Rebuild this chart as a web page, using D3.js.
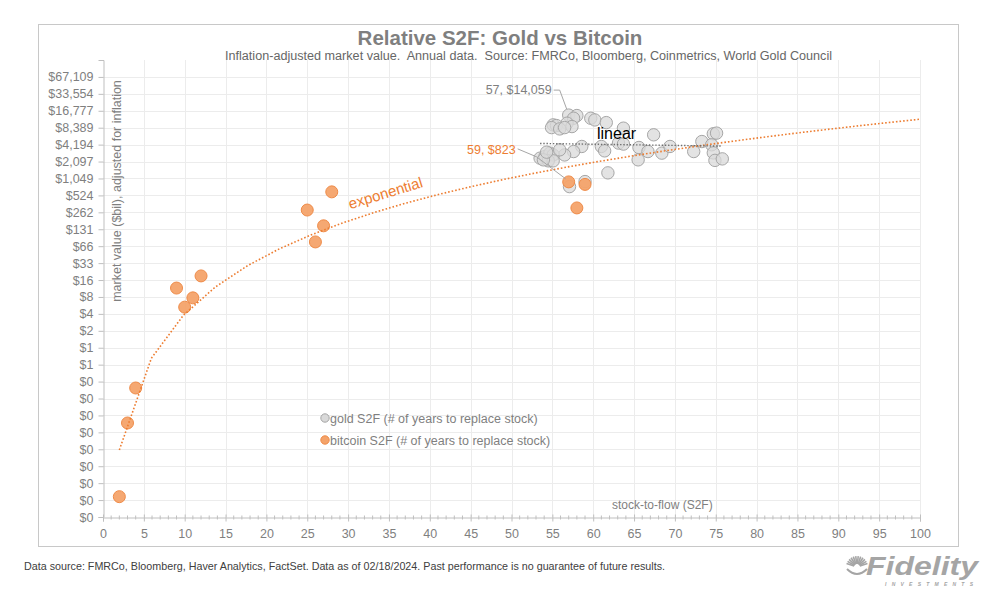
<!DOCTYPE html>
<html><head><meta charset="utf-8">
<script src="https://cdn.jsdelivr.net/npm/d3@7"></script>
<style>
html,body{margin:0;padding:0;background:#fff;}
text{font-family:"Liberation Sans",Arial,sans-serif;}
</style></head>
<body>
<svg id="c" width="1000" height="595"></svg>
<script>
// ---- data ----
const goldX = [57, 58.0, 57.6, 56.8, 57.4, 55.1, 55.5, 54.9, 55.9, 56.5, 59.7, 60.2, 61.6, 63.7, 67.4, 61.0, 61.4, 63.1, 63.7, 58.6, 57.6, 56.5, 53.5, 54.1, 54.7, 55.1, 54.5, 55.1, 53.9, 55.9, 65.5, 65.6, 66.7, 68.4, 69.4, 61.8, 72.3, 73.3, 74.7, 75.1, 74.5, 74.7, 74.9, 75.8, 57.1, 59.0, 54.3];
const goldY = [14059, 13800, 12360, 10100, 8790, 9420, 9160, 8430, 7980, 8430, 12360, 11540, 10330, 8230, 6270, 3890, 3250, 4470, 4290, 3890, 3160, 2750, 2410, 2570, 2960, 2750, 2160, 2160, 2250, 3390, 2250, 3730, 3160, 2960, 3890, 1320, 3160, 4760, 6540, 6720, 4170, 2990, 2200, 2340, 752, 924, 3080];
const btcX = [2, 3, 4, 9, 10, 11, 12, 25, 26, 27, 28, 57, 58, 59];
const btcY = [0.0023, 0.047, 0.197, 11.8, 5.4, 7.9, 19.4, 288, 78, 151, 606, 912, 314, 823];
const goldTrendX = [53.5, 75.8];
const goldTrendY = [4400, 3950];
const xTicks = d3.range(0, 101, 5);
const yTicks = d3.range(0, 27).map(k => Math.pow(2, k) / 1000);
const title = "Relative S2F: Gold vs Bitcoin";
const subtitle = "Inflation-adjusted market value.  Annual data.  Source: FMRCo, Bloomberg, Coinmetrics, World Gold Council";
const footer = "Data source: FMRCo, Bloomberg, Haver Analytics, FactSet. Data as of 02/18/2024. Past performance is no guarantee of future results.";
const yTitle = "market value ($bil), adjusted for inflation";
const xTitle = "stock-to-flow (S2F)";
const legendLabels = ["gold S2F (# of years to replace stock)", "bitcoin S2F (# of years to replace stock)"];
const goldNote = {x: 57, y: 14059, text: "57, $14,059"};
const btcNote = {x: 57, y: 912, text: "59, $823"};

// ---- layout ----
const svg = d3.select("#c");
const L = 103, R = 920, T = 60, B = 517;
const x = d3.scaleLinear().domain([0, 100]).range([L, R]);
const y = d3.scaleLog().base(2).domain([0.001, Math.pow(2, 27) / 1000]).range([B, T]);
const grey = "#7f7f7f", orange = "#ed7d31";

// frame
svg.append("rect").attr("x", 38.5).attr("y", 24.5).attr("width", 920).attr("height", 522)
  .attr("fill", "none").attr("stroke", "#c8c8c8").attr("stroke-width", 1);

// gridlines
const g = svg.append("g");
g.selectAll("line.h").data(yTicks.slice(1)).join("line")
  .attr("x1", L).attr("x2", R).attr("y1", d => Math.round(y(d)) + 0.5).attr("y2", d => Math.round(y(d)) + 0.5)
  .attr("stroke", "#ececec");
g.selectAll("line.v").data(xTicks.slice(1)).join("line")
  .attr("y1", T).attr("y2", B).attr("x1", d => Math.round(x(d)) + 0.5).attr("x2", d => Math.round(x(d)) + 0.5)
  .attr("stroke", "#ececec");

// y axis
const yAxis = d3.axisLeft(y).tickValues(yTicks).tickSize(5).tickPadding(5)
  .tickFormat(d => "$" + d3.format(",.0f")(d));
const ya = svg.append("g").attr("transform", `translate(${L + 0.5},0)`).call(yAxis);
ya.select(".domain").attr("stroke", "#bfbfbf");
ya.selectAll(".tick line").attr("stroke", "#bfbfbf");
ya.selectAll(".tick text").attr("fill", grey).style("font-size", "12.5px")
  .style("font-family", "Liberation Sans, Arial, sans-serif");

// x axis
const xa = svg.append("g").attr("transform", `translate(0,${B + 0.5})`)
  .call(d3.axisBottom(x).tickValues(xTicks).tickSize(4).tickPadding(8).tickFormat(d3.format("d")));
xa.select(".domain").attr("stroke", "#bfbfbf");
xa.selectAll(".tick line").attr("stroke", "#bfbfbf").attr("y1", -3);
xa.selectAll(".tick text").attr("fill", grey).style("font-size", "12.5px")
  .style("font-family", "Liberation Sans, Arial, sans-serif");
xa.selectAll("line.minor").data(d3.range(1, 100).filter(d => d % 5 !== 0)).join("line")
  .attr("class", "minor").attr("x1", d => x(d)).attr("x2", d => x(d)).attr("y1", -2).attr("y2", 2)
  .attr("stroke", "#bfbfbf");

// axis titles
svg.append("text").attr("transform", "translate(121,191) rotate(-90)").attr("text-anchor", "middle")
  .attr("fill", grey).style("font-size", "12.5px").text(yTitle);
svg.append("text").attr("x", 612).attr("y", 509).attr("fill", grey).style("font-size", "12px").text(xTitle);

// points
svg.append("g").selectAll("circle").data(goldX.map((d, i) => [d, goldY[i]])).join("circle")
  .attr("cx", d => x(d[0])).attr("cy", d => y(d[1])).attr("r", 6.2)
  .attr("fill", "#d9d9d9").attr("fill-opacity", 0.75).attr("stroke", "#a6a6a6").attr("stroke-width", 1);
svg.append("g").selectAll("circle").data(btcX.map((d, i) => [d, btcY[i]])).join("circle")
  .attr("cx", d => x(d[0])).attr("cy", d => y(d[1])).attr("r", 6)
  .attr("fill", "#f4a36a").attr("fill-opacity", 0.95).attr("stroke", "#ef8b48").attr("stroke-width", 1);

// power trendline fitted to bitcoin data
const lx = btcX.map(Math.log), ly = btcY.map(Math.log);
const mx = d3.mean(lx), my = d3.mean(ly);
const bb = d3.sum(lx, (v, i) => (v - mx) * (ly[i] - my)) / d3.sum(lx, v => (v - mx) * (v - mx));
const aa = my - bb * mx;
const trend = d3.range(26).map(i => { const xv = 2 + i * 98 / 25; return [xv, Math.exp(aa + bb * Math.log(xv))]; });
const line = d3.line().x(d => x(d[0])).y(d => y(d[1]));
svg.append("path").attr("d", line(trend)).attr("fill", "none").attr("stroke", orange)
  .attr("stroke-width", 1.6).attr("stroke-dasharray", "1.6 2");
svg.append("path").attr("d", line(goldTrendX.map((d, i) => [d, goldTrendY[i]]))).attr("fill", "none")
  .attr("stroke", "#6e6e6e").attr("stroke-width", 1.4).attr("stroke-dasharray", "1.4 1.8");

// trend labels
svg.append("text").attr("transform", "translate(387,198) rotate(-17)").attr("text-anchor", "middle")
  .attr("fill", orange).style("font-size", "15px").text("exponential");
svg.append("text").attr("x", 597).attr("y", 139).attr("fill", "#000").style("font-size", "16px").text("linear");

// annotations
const gx = x(goldNote.x), gy = y(goldNote.y);
svg.append("polyline").attr("points", [[gx - 15, gy - 25], [gx - 9, gy - 25], [gx - 2, gy - 6]].join(" "))
  .attr("fill", "none").attr("stroke", "#a6a6a6").attr("stroke-width", 1);
svg.append("text").attr("x", gx - 17).attr("y", gy - 21).attr("text-anchor", "end")
  .attr("fill", grey).style("font-size", "12.5px").text(goldNote.text);
const bx = x(btcNote.x), by = y(btcNote.y);
svg.append("polyline").attr("points", [[bx - 51, by - 33], [bx - 32, by - 25], [bx - 3, by - 3]].join(" "))
  .attr("fill", "none").attr("stroke", "#a6a6a6").attr("stroke-width", 1);
svg.append("text").attr("x", bx - 53).attr("y", by - 28).attr("text-anchor", "end")
  .attr("fill", orange).style("font-size", "12.5px").text(btcNote.text);

// legend
const lg = svg.append("g");
lg.append("circle").attr("cx", 325).attr("cy", 418).attr("r", 4.2).attr("fill", "#d9d9d9").attr("stroke", "#a6a6a6");
lg.append("circle").attr("cx", 325).attr("cy", 440).attr("r", 4.2).attr("fill", "#f4a36a").attr("stroke", "#ef8b48");
lg.append("text").attr("x", 330).attr("y", 422.5).attr("fill", grey).style("font-size", "12.5px").text(legendLabels[0]);
lg.append("text").attr("x", 330).attr("y", 444.5).attr("fill", grey).style("font-size", "12.5px").text(legendLabels[1]);

// titles
svg.append("text").attr("x", 500).attr("y", 45).attr("text-anchor", "middle").attr("fill", grey)
  .style("font-size", "20.5px").style("font-weight", "bold").text(title);
svg.append("text").attr("x", 225).attr("y", 59.5).attr("fill", "#666").style("white-space", "pre")
  .attr("textLength", 607).attr("lengthAdjust", "spacingAndGlyphs").style("font-size", "12.5px").text(subtitle);

// footer
svg.append("text").attr("x", 24).attr("y", 570).attr("fill", "#404040")
  .attr("textLength", 641).attr("lengthAdjust", "spacingAndGlyphs").style("font-size", "11.5px").text(footer);

// logo
const logo = svg.append("g").attr("fill", "#a5a5a5").attr("stroke", "#a5a5a5");
const cxL = 857, cyL = 567;
d3.range(12).forEach(i => {
  const ang = Math.PI * (0.1 + 0.8 * i / 11);
  logo.append("line").attr("x1", cxL - 3 * Math.cos(ang)).attr("y1", cyL - 3 * Math.sin(ang))
    .attr("x2", cxL - 11 * Math.cos(ang)).attr("y2", cyL - 11 * Math.sin(ang)).attr("stroke-width", 1.6);
});
logo.append("path").attr("d", `M${cxL - 10},${cyL + 2} Q${cxL},${cyL + 12} ${cxL + 10},${cyL + 2}`).attr("fill", "none").attr("stroke-width", 2);
logo.append("text").attr("x", 866).attr("y", 575).attr("stroke", "none").style("font-size", "25px")
  .style("font-weight", "bold").style("font-style", "italic").attr("textLength", 112).attr("lengthAdjust", "spacingAndGlyphs").text("Fidelity");
logo.append("text").attr("x", 885).attr("y", 586).attr("stroke", "none").style("font-size", "5px")
  .style("font-weight", "bold").style("font-style", "italic").attr("textLength", 88).text("INVESTMENTS");
</script>
</body></html>
